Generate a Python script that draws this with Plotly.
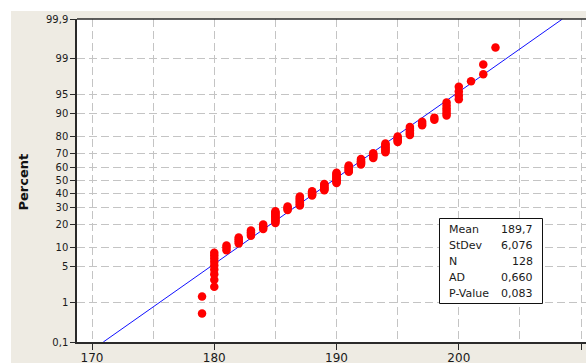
import plotly.graph_objects as go
from statistics import NormalDist

# ---- data ----
values = [179, 180, 181, 182, 183, 184, 185, 186, 187, 188, 189, 190, 191,
          192, 193, 194, 195, 196, 197, 198, 199, 200, 201, 202, 203]
counts = [2, 9, 3, 4, 4, 4, 10, 4, 9, 5, 7, 11, 7,
          6, 5, 8, 5, 6, 3, 2, 6, 4, 1, 2, 1]
mean_val = 189.7
stdev_val = 6.076
stat_labels = ["Mean", "StDev", "N", "AD", "P-Value"]
stat_texts = ["189,7", "6,076", "128", "0,660", "0,083"]
y_tick_pct = [0.1, 1, 5, 10, 20, 30, 40, 50, 60, 70, 80, 90, 95, 99, 99.9]
y_tick_labels = ["0,1", "1", "5", "10", "20", "30", "40", "50", "60", "70",
                 "80", "90", "95", "99", "99,9"]
x_ticks = [170, 180, 190, 200, 210]

nd = NormalDist()

# expand into sorted observations & median-rank plotting positions
obs = []
for v, c in zip(values, counts):
    obs += [v] * c
n = len(obs)
zpos = [nd.inv_cdf((i + 1 - 0.3) / (n + 0.4)) for i in range(n)]

zlim = nd.inv_cdf(0.999)
line_z = [-zlim, zlim]
line_x = [mean_val + z * stdev_val for z in line_z]

W, H = 586, 363
ML, MR, MT, MB = 77, 0, 19, 21
PW, PH = W - ML - MR, H - MT - MB


def px_x(p):
    return (p - ML) / PW


def px_y(p):
    return 1 - (p - MT) / PH


BEIGE = "#EEEBE3"
GRID = "#C4C4C4"
AX = "#2a2a2a"
FONT = "DejaVu Sans"

fig = go.Figure()
fig.add_trace(go.Scatter(x=line_x, y=line_z, mode="lines",
                         line=dict(color="#1010FF", width=1), hoverinfo="skip"))
fig.add_trace(go.Scatter(x=obs, y=zpos, mode="markers",
                         marker=dict(color="#FF0000", size=8.5, line=dict(width=0))))

shapes = [
    # white strips at top and left of the (cropped) window
    dict(type="rect", xref="paper", yref="paper", x0=px_x(0), x1=px_x(W + 5),
         y0=px_y(11), y1=px_y(-5), fillcolor="white", line=dict(width=0), layer="below"),
    dict(type="rect", xref="paper", yref="paper", x0=px_x(-5), x1=px_x(11),
         y0=px_y(H + 5), y1=px_y(-5), fillcolor="white", line=dict(width=0), layer="below"),
    # top border of plot
    dict(type="line", xref="paper", yref="paper", x0=0, x1=1, y0=1, y1=1,
         line=dict(color=AX, width=1.5)),
    # stats box
    dict(type="rect", xref="paper", yref="paper", x0=px_x(439.5), x1=px_x(542.5),
         y0=px_y(303.5), y1=px_y(218.5), fillcolor="white",
         line=dict(color="#111111", width=1)),
]

annotations = [
    dict(text="<b>Percent</b>", xref="paper", yref="paper", x=px_x(23), y=px_y(182.5),
         textangle=-90, showarrow=False, xanchor="center", yanchor="middle",
         font=dict(family=FONT, size=13, color="#111111")),
]
row_y = [229.5, 245.5, 261.5, 277.5, 293.5]
for lab, txt, ry in zip(stat_labels, stat_texts, row_y):
    annotations.append(dict(text=lab, xref="paper", yref="paper", x=px_x(446.5), y=px_y(ry),
                            xanchor="left", yanchor="middle", showarrow=False,
                            font=dict(family=FONT, size=11, color="#1a1a1a")))
    annotations.append(dict(text=txt, xref="paper", yref="paper", x=px_x(534.5), y=px_y(ry),
                            xanchor="right", yanchor="middle", showarrow=False,
                            font=dict(family=FONT, size=11, color="#1a1a1a")))

x_left = 170 - (92.0 - ML) / 12.227
x_right = x_left + PW / 12.227

fig.update_layout(
    width=W, height=H,
    margin=dict(l=ML, r=MR, t=MT, b=MB, pad=0, autoexpand=False),
    paper_bgcolor=BEIGE, plot_bgcolor="white",
    showlegend=False,
    shapes=shapes, annotations=annotations,
    xaxis=dict(range=[x_left, x_right], tickmode="array", tickvals=x_ticks,
               automargin=False,
               showgrid=True, gridcolor=GRID, griddash="8px,4px", gridwidth=1,
               minor=dict(dtick=5, tick0=170, showgrid=True, gridcolor=GRID,
                          griddash="8px,4px", gridwidth=1, ticks=""),
               showline=True, linecolor=AX, linewidth=1.5, zeroline=False,
               ticks="outside", ticklen=6, tickcolor=AX, tickwidth=1,
               ticklabelstandoff=-2,
               tickfont=dict(family=FONT, size=12, color="#1a1a1a")),
    yaxis=dict(range=[-zlim, zlim], tickmode="array",
               automargin=False,
               tickvals=[nd.inv_cdf(p / 100) for p in y_tick_pct],
               ticktext=y_tick_labels,
               showgrid=True, gridcolor=GRID, griddash="8px,4px", gridwidth=1,
               showline=True, linecolor=AX, linewidth=1.5, zeroline=False,
               ticks="outside", ticklen=5, tickcolor=AX, tickwidth=1,
               tickfont=dict(family=FONT, size=10, color="#1a1a1a")),
)

fig.write_html("out.html",
               config={"displayModeBar": False},
               post_script="document.body.style.margin='0px';"
                           "document.body.style.overflow='hidden';")
